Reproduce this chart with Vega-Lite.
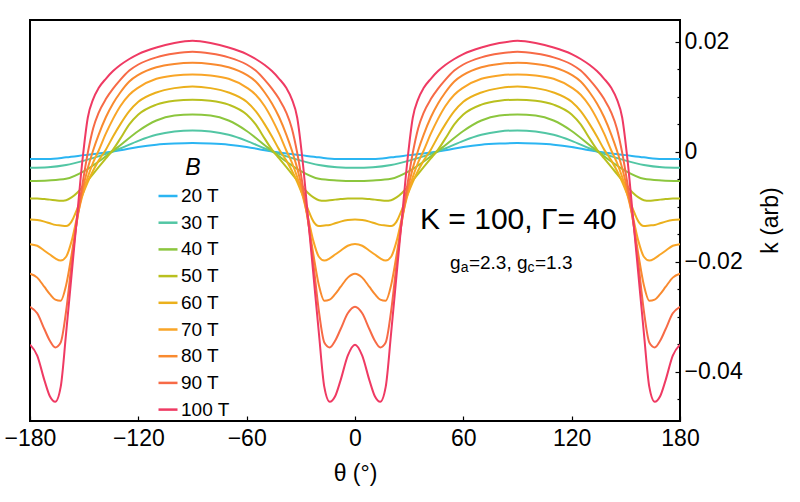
{
  "$schema": "https://vega.github.io/schema/vega-lite/v6.json",
  "width": 650,
  "height": 401,
  "autosize": {"type": "none"},
  "padding": {"left": 30, "top": 20, "right": 120, "bottom": 81},
  "background": "white",
  "config": {
    "font": "Liberation Sans",
    "view": {"stroke": "black", "strokeWidth": 2},
    "axis": {
      "grid": false,
      "domain": false,
      "labelFont": "Liberation Sans",
      "titleFont": "Liberation Sans",
      "labelColor": "black",
      "titleColor": "black",
      "titleFontWeight": "normal",
      "tickColor": "black",
      "tickWidth": 1.2
    },
    "text": {"font": "Liberation Sans", "color": "black"}
  },
  "datasets": {
    "curves": [
      {"B":20,"t":-180,"k":-0.0013},{"B":20,"t":-170,"k":-0.0013},{"B":20,"t":-160,"k":-0.0010},{"B":20,"t":-150,"k":-0.0006},{"B":20,"t":-140,"k":-0.0002},{"B":20,"t":-130,"k":0.0003},{"B":20,"t":-120,"k":0.0009},{"B":20,"t":-110,"k":0.0013},{"B":20,"t":-100,"k":0.0015},{"B":20,"t":-90,"k":0.0016},
      {"B":20,"t":-80,"k":0.0015},{"B":20,"t":-70,"k":0.0013},{"B":20,"t":-60,"k":0.0009},{"B":20,"t":-50,"k":0.0003},{"B":20,"t":-40,"k":-0.0002},{"B":20,"t":-30,"k":-0.0006},{"B":20,"t":-20,"k":-0.0010},{"B":20,"t":-10,"k":-0.0013},{"B":20,"t":0,"k":-0.0013},
      {"B":20,"t":10,"k":-0.0013},{"B":20,"t":20,"k":-0.0010},{"B":20,"t":30,"k":-0.0006},{"B":20,"t":40,"k":-0.0002},{"B":20,"t":50,"k":0.0003},{"B":20,"t":60,"k":0.0009},{"B":20,"t":70,"k":0.0013},{"B":20,"t":80,"k":0.0015},{"B":20,"t":90,"k":0.0016},
      {"B":20,"t":100,"k":0.0015},{"B":20,"t":110,"k":0.0013},{"B":20,"t":120,"k":0.0009},{"B":20,"t":130,"k":0.0003},{"B":20,"t":140,"k":-0.0002},{"B":20,"t":150,"k":-0.0006},{"B":20,"t":160,"k":-0.0010},{"B":20,"t":170,"k":-0.0013},{"B":20,"t":180,"k":-0.0013},

      {"B":30,"t":-180,"k":-0.0029},{"B":30,"t":-170,"k":-0.0028},{"B":30,"t":-160,"k":-0.0024},{"B":30,"t":-150,"k":-0.0016},{"B":30,"t":-140,"k":-0.0006},{"B":30,"t":-130,"k":0.0006},{"B":30,"t":-120,"k":0.0020},{"B":30,"t":-110,"k":0.0031},{"B":30,"t":-100,"k":0.0037},{"B":30,"t":-90,"k":0.0039},
      {"B":30,"t":-80,"k":0.0037},{"B":30,"t":-70,"k":0.0031},{"B":30,"t":-60,"k":0.0020},{"B":30,"t":-50,"k":0.0006},{"B":30,"t":-40,"k":-0.0006},{"B":30,"t":-30,"k":-0.0016},{"B":30,"t":-20,"k":-0.0024},{"B":30,"t":-10,"k":-0.0028},{"B":30,"t":0,"k":-0.0029},
      {"B":30,"t":10,"k":-0.0028},{"B":30,"t":20,"k":-0.0024},{"B":30,"t":30,"k":-0.0016},{"B":30,"t":40,"k":-0.0006},{"B":30,"t":50,"k":0.0006},{"B":30,"t":60,"k":0.0020},{"B":30,"t":70,"k":0.0031},{"B":30,"t":80,"k":0.0037},{"B":30,"t":90,"k":0.0039},
      {"B":30,"t":100,"k":0.0037},{"B":30,"t":110,"k":0.0031},{"B":30,"t":120,"k":0.0020},{"B":30,"t":130,"k":0.0006},{"B":30,"t":140,"k":-0.0006},{"B":30,"t":150,"k":-0.0016},{"B":30,"t":160,"k":-0.0024},{"B":30,"t":170,"k":-0.0028},{"B":30,"t":180,"k":-0.0029},

      {"B":40,"t":-180,"k":-0.0053},{"B":40,"t":-170,"k":-0.0052},{"B":40,"t":-160,"k":-0.0049},{"B":40,"t":-150,"k":-0.0035},{"B":40,"t":-140,"k":-0.0013},{"B":40,"t":-130,"k":0.0012},{"B":40,"t":-120,"k":0.0038},{"B":40,"t":-110,"k":0.0057},{"B":40,"t":-100,"k":0.0066},{"B":40,"t":-90,"k":0.0068},
      {"B":40,"t":-80,"k":0.0066},{"B":40,"t":-70,"k":0.0057},{"B":40,"t":-60,"k":0.0038},{"B":40,"t":-50,"k":0.0012},{"B":40,"t":-40,"k":-0.0013},{"B":40,"t":-30,"k":-0.0035},{"B":40,"t":-20,"k":-0.0049},{"B":40,"t":-10,"k":-0.0052},{"B":40,"t":0,"k":-0.0053},
      {"B":40,"t":10,"k":-0.0052},{"B":40,"t":20,"k":-0.0049},{"B":40,"t":30,"k":-0.0035},{"B":40,"t":40,"k":-0.0013},{"B":40,"t":50,"k":0.0012},{"B":40,"t":60,"k":0.0038},{"B":40,"t":70,"k":0.0057},{"B":40,"t":80,"k":0.0066},{"B":40,"t":90,"k":0.0068},
      {"B":40,"t":100,"k":0.0066},{"B":40,"t":110,"k":0.0057},{"B":40,"t":120,"k":0.0038},{"B":40,"t":130,"k":0.0012},{"B":40,"t":140,"k":-0.0013},{"B":40,"t":150,"k":-0.0035},{"B":40,"t":160,"k":-0.0049},{"B":40,"t":170,"k":-0.0052},{"B":40,"t":180,"k":-0.0053},

      {"B":50,"t":-180,"k":-0.0085},{"B":50,"t":-176,"k":-0.0085},{"B":50,"t":-172,"k":-0.0086},{"B":50,"t":-169,"k":-0.0087},{"B":50,"t":-166,"k":-0.0088},{"B":50,"t":-163,"k":-0.0089},{"B":50,"t":-160,"k":-0.0088},{"B":50,"t":-157,"k":-0.0083},{"B":50,"t":-154,"k":-0.0075},{"B":50,"t":-151,"k":-0.0064},{"B":50,"t":-148,"k":-0.0052},{"B":50,"t":-145,"k":-0.0040},{"B":50,"t":-142,"k":-0.0028},{"B":50,"t":-138,"k":-0.0012},{"B":50,"t":-134,"k":0.0004},{"B":50,"t":-130,"k":0.0024},{"B":50,"t":-125,"k":0.0050},{"B":50,"t":-120,"k":0.0068},{"B":50,"t":-110,"k":0.0086},{"B":50,"t":-100,"k":0.0093},{"B":50,"t":-90,"k":0.0095},
      {"B":50,"t":-80,"k":0.0093},{"B":50,"t":-70,"k":0.0086},{"B":50,"t":-60,"k":0.0068},{"B":50,"t":-55,"k":0.0050},{"B":50,"t":-50,"k":0.0024},{"B":50,"t":-46,"k":0.0004},{"B":50,"t":-42,"k":-0.0012},{"B":50,"t":-38,"k":-0.0028},{"B":50,"t":-35,"k":-0.0040},{"B":50,"t":-32,"k":-0.0052},{"B":50,"t":-29,"k":-0.0064},{"B":50,"t":-26,"k":-0.0075},{"B":50,"t":-23,"k":-0.0083},{"B":50,"t":-20,"k":-0.0088},{"B":50,"t":-17,"k":-0.0089},{"B":50,"t":-14,"k":-0.0088},{"B":50,"t":-11,"k":-0.0087},{"B":50,"t":-8,"k":-0.0086},{"B":50,"t":-4,"k":-0.0085},{"B":50,"t":0,"k":-0.0085},
      {"B":50,"t":4,"k":-0.0085},{"B":50,"t":8,"k":-0.0086},{"B":50,"t":11,"k":-0.0087},{"B":50,"t":14,"k":-0.0088},{"B":50,"t":17,"k":-0.0089},{"B":50,"t":20,"k":-0.0088},{"B":50,"t":23,"k":-0.0083},{"B":50,"t":26,"k":-0.0075},{"B":50,"t":29,"k":-0.0064},{"B":50,"t":32,"k":-0.0052},{"B":50,"t":35,"k":-0.0040},{"B":50,"t":38,"k":-0.0028},{"B":50,"t":42,"k":-0.0012},{"B":50,"t":46,"k":0.0004},{"B":50,"t":50,"k":0.0024},{"B":50,"t":55,"k":0.0050},{"B":50,"t":60,"k":0.0068},{"B":50,"t":70,"k":0.0086},{"B":50,"t":80,"k":0.0093},{"B":50,"t":90,"k":0.0095},
      {"B":50,"t":100,"k":0.0093},{"B":50,"t":110,"k":0.0086},{"B":50,"t":120,"k":0.0068},{"B":50,"t":125,"k":0.0050},{"B":50,"t":130,"k":0.0024},{"B":50,"t":134,"k":0.0004},{"B":50,"t":138,"k":-0.0012},{"B":50,"t":142,"k":-0.0028},{"B":50,"t":145,"k":-0.0040},{"B":50,"t":148,"k":-0.0052},{"B":50,"t":151,"k":-0.0064},{"B":50,"t":154,"k":-0.0075},{"B":50,"t":157,"k":-0.0083},{"B":50,"t":160,"k":-0.0088},{"B":50,"t":163,"k":-0.0089},{"B":50,"t":166,"k":-0.0088},{"B":50,"t":169,"k":-0.0087},{"B":50,"t":172,"k":-0.0086},{"B":50,"t":176,"k":-0.0085},{"B":50,"t":180,"k":-0.0085},

      {"B":60,"t":-180,"k":-0.0123},{"B":60,"t":-176,"k":-0.0124},{"B":60,"t":-172,"k":-0.0127},{"B":60,"t":-169,"k":-0.0130},{"B":60,"t":-166,"k":-0.0133},{"B":60,"t":-163,"k":-0.0134},{"B":60,"t":-160,"k":-0.0135},{"B":60,"t":-157,"k":-0.0127},{"B":60,"t":-154,"k":-0.0105},{"B":60,"t":-151,"k":-0.0079},{"B":60,"t":-148,"k":-0.0055},{"B":60,"t":-145,"k":-0.0034},{"B":60,"t":-142,"k":-0.0016},{"B":60,"t":-138,"k":0.0004},{"B":60,"t":-134,"k":0.0028},{"B":60,"t":-130,"k":0.0050},{"B":60,"t":-125,"k":0.0074},{"B":60,"t":-120,"k":0.0091},{"B":60,"t":-110,"k":0.0108},{"B":60,"t":-100,"k":0.0116},{"B":60,"t":-90,"k":0.0119},
      {"B":60,"t":-80,"k":0.0116},{"B":60,"t":-70,"k":0.0108},{"B":60,"t":-60,"k":0.0091},{"B":60,"t":-55,"k":0.0074},{"B":60,"t":-50,"k":0.0050},{"B":60,"t":-46,"k":0.0028},{"B":60,"t":-42,"k":0.0004},{"B":60,"t":-38,"k":-0.0016},{"B":60,"t":-35,"k":-0.0034},{"B":60,"t":-32,"k":-0.0055},{"B":60,"t":-29,"k":-0.0079},{"B":60,"t":-26,"k":-0.0105},{"B":60,"t":-23,"k":-0.0127},{"B":60,"t":-20,"k":-0.0135},{"B":60,"t":-17,"k":-0.0134},{"B":60,"t":-14,"k":-0.0133},{"B":60,"t":-11,"k":-0.0130},{"B":60,"t":-8,"k":-0.0127},{"B":60,"t":-4,"k":-0.0124},{"B":60,"t":0,"k":-0.0123},
      {"B":60,"t":4,"k":-0.0124},{"B":60,"t":8,"k":-0.0127},{"B":60,"t":11,"k":-0.0130},{"B":60,"t":14,"k":-0.0133},{"B":60,"t":17,"k":-0.0134},{"B":60,"t":20,"k":-0.0135},{"B":60,"t":23,"k":-0.0127},{"B":60,"t":26,"k":-0.0105},{"B":60,"t":29,"k":-0.0079},{"B":60,"t":32,"k":-0.0055},{"B":60,"t":35,"k":-0.0034},{"B":60,"t":38,"k":-0.0016},{"B":60,"t":42,"k":0.0004},{"B":60,"t":46,"k":0.0028},{"B":60,"t":50,"k":0.0050},{"B":60,"t":55,"k":0.0074},{"B":60,"t":60,"k":0.0091},{"B":60,"t":70,"k":0.0108},{"B":60,"t":80,"k":0.0116},{"B":60,"t":90,"k":0.0119},
      {"B":60,"t":100,"k":0.0116},{"B":60,"t":110,"k":0.0108},{"B":60,"t":120,"k":0.0091},{"B":60,"t":125,"k":0.0074},{"B":60,"t":130,"k":0.0050},{"B":60,"t":134,"k":0.0028},{"B":60,"t":138,"k":0.0004},{"B":60,"t":142,"k":-0.0016},{"B":60,"t":145,"k":-0.0034},{"B":60,"t":148,"k":-0.0055},{"B":60,"t":151,"k":-0.0079},{"B":60,"t":154,"k":-0.0105},{"B":60,"t":157,"k":-0.0127},{"B":60,"t":160,"k":-0.0135},{"B":60,"t":163,"k":-0.0134},{"B":60,"t":166,"k":-0.0133},{"B":60,"t":169,"k":-0.0130},{"B":60,"t":172,"k":-0.0127},{"B":60,"t":176,"k":-0.0124},{"B":60,"t":180,"k":-0.0123},

      {"B":70,"t":-180,"k":-0.0168},{"B":70,"t":-176,"k":-0.0171},{"B":70,"t":-172,"k":-0.0180},{"B":70,"t":-169,"k":-0.0187},{"B":70,"t":-166,"k":-0.0194},{"B":70,"t":-163,"k":-0.0198},{"B":70,"t":-160,"k":-0.0191},{"B":70,"t":-157,"k":-0.0163},{"B":70,"t":-154,"k":-0.0120},{"B":70,"t":-151,"k":-0.0080},{"B":70,"t":-148,"k":-0.0046},{"B":70,"t":-145,"k":-0.0019},{"B":70,"t":-142,"k":0.0002},{"B":70,"t":-138,"k":0.0033},{"B":70,"t":-134,"k":0.0060},{"B":70,"t":-130,"k":0.0083},{"B":70,"t":-125,"k":0.0104},{"B":70,"t":-120,"k":0.0117},{"B":70,"t":-110,"k":0.0133},{"B":70,"t":-100,"k":0.0139},{"B":70,"t":-90,"k":0.0141},
      {"B":70,"t":-80,"k":0.0139},{"B":70,"t":-70,"k":0.0133},{"B":70,"t":-60,"k":0.0117},{"B":70,"t":-55,"k":0.0104},{"B":70,"t":-50,"k":0.0083},{"B":70,"t":-46,"k":0.0060},{"B":70,"t":-42,"k":0.0033},{"B":70,"t":-38,"k":0.0002},{"B":70,"t":-35,"k":-0.0019},{"B":70,"t":-32,"k":-0.0046},{"B":70,"t":-29,"k":-0.0080},{"B":70,"t":-26,"k":-0.0120},{"B":70,"t":-23,"k":-0.0163},{"B":70,"t":-20,"k":-0.0191},{"B":70,"t":-17,"k":-0.0198},{"B":70,"t":-14,"k":-0.0194},{"B":70,"t":-11,"k":-0.0187},{"B":70,"t":-8,"k":-0.0180},{"B":70,"t":-4,"k":-0.0171},{"B":70,"t":0,"k":-0.0168},
      {"B":70,"t":4,"k":-0.0171},{"B":70,"t":8,"k":-0.0180},{"B":70,"t":11,"k":-0.0187},{"B":70,"t":14,"k":-0.0194},{"B":70,"t":17,"k":-0.0198},{"B":70,"t":20,"k":-0.0191},{"B":70,"t":23,"k":-0.0163},{"B":70,"t":26,"k":-0.0120},{"B":70,"t":29,"k":-0.0080},{"B":70,"t":32,"k":-0.0046},{"B":70,"t":35,"k":-0.0019},{"B":70,"t":38,"k":0.0002},{"B":70,"t":42,"k":0.0033},{"B":70,"t":46,"k":0.0060},{"B":70,"t":50,"k":0.0083},{"B":70,"t":55,"k":0.0104},{"B":70,"t":60,"k":0.0117},{"B":70,"t":70,"k":0.0133},{"B":70,"t":80,"k":0.0139},{"B":70,"t":90,"k":0.0141},
      {"B":70,"t":100,"k":0.0139},{"B":70,"t":110,"k":0.0133},{"B":70,"t":120,"k":0.0117},{"B":70,"t":125,"k":0.0104},{"B":70,"t":130,"k":0.0083},{"B":70,"t":134,"k":0.0060},{"B":70,"t":138,"k":0.0033},{"B":70,"t":142,"k":0.0002},{"B":70,"t":145,"k":-0.0019},{"B":70,"t":148,"k":-0.0046},{"B":70,"t":151,"k":-0.0080},{"B":70,"t":154,"k":-0.0120},{"B":70,"t":157,"k":-0.0163},{"B":70,"t":160,"k":-0.0191},{"B":70,"t":163,"k":-0.0198},{"B":70,"t":166,"k":-0.0194},{"B":70,"t":169,"k":-0.0187},{"B":70,"t":172,"k":-0.0180},{"B":70,"t":176,"k":-0.0171},{"B":70,"t":180,"k":-0.0168},

      {"B":80,"t":-180,"k":-0.0222},{"B":80,"t":-176,"k":-0.0229},{"B":80,"t":-172,"k":-0.0246},{"B":80,"t":-169,"k":-0.0259},{"B":80,"t":-166,"k":-0.0269},{"B":80,"t":-163,"k":-0.0271},{"B":80,"t":-160,"k":-0.0243},{"B":80,"t":-157,"k":-0.0188},{"B":80,"t":-154,"k":-0.0126},{"B":80,"t":-151,"k":-0.0072},{"B":80,"t":-148,"k":-0.0030},{"B":80,"t":-145,"k":0.0003},{"B":80,"t":-142,"k":0.0031},{"B":80,"t":-138,"k":0.0063},{"B":80,"t":-134,"k":0.0088},{"B":80,"t":-130,"k":0.0108},{"B":80,"t":-125,"k":0.0128},{"B":80,"t":-120,"k":0.0140},{"B":80,"t":-110,"k":0.0154},{"B":80,"t":-100,"k":0.0160},{"B":80,"t":-90,"k":0.0162},
      {"B":80,"t":-80,"k":0.0160},{"B":80,"t":-70,"k":0.0154},{"B":80,"t":-60,"k":0.0140},{"B":80,"t":-55,"k":0.0128},{"B":80,"t":-50,"k":0.0108},{"B":80,"t":-46,"k":0.0088},{"B":80,"t":-42,"k":0.0063},{"B":80,"t":-38,"k":0.0031},{"B":80,"t":-35,"k":0.0003},{"B":80,"t":-32,"k":-0.0030},{"B":80,"t":-29,"k":-0.0072},{"B":80,"t":-26,"k":-0.0126},{"B":80,"t":-23,"k":-0.0188},{"B":80,"t":-20,"k":-0.0243},{"B":80,"t":-17,"k":-0.0271},{"B":80,"t":-14,"k":-0.0269},{"B":80,"t":-11,"k":-0.0259},{"B":80,"t":-8,"k":-0.0246},{"B":80,"t":-4,"k":-0.0229},{"B":80,"t":0,"k":-0.0222},
      {"B":80,"t":4,"k":-0.0229},{"B":80,"t":8,"k":-0.0246},{"B":80,"t":11,"k":-0.0259},{"B":80,"t":14,"k":-0.0269},{"B":80,"t":17,"k":-0.0271},{"B":80,"t":20,"k":-0.0243},{"B":80,"t":23,"k":-0.0188},{"B":80,"t":26,"k":-0.0126},{"B":80,"t":29,"k":-0.0072},{"B":80,"t":32,"k":-0.0030},{"B":80,"t":35,"k":0.0003},{"B":80,"t":38,"k":0.0031},{"B":80,"t":42,"k":0.0063},{"B":80,"t":46,"k":0.0088},{"B":80,"t":50,"k":0.0108},{"B":80,"t":55,"k":0.0128},{"B":80,"t":60,"k":0.0140},{"B":80,"t":70,"k":0.0154},{"B":80,"t":80,"k":0.0160},{"B":80,"t":90,"k":0.0162},
      {"B":80,"t":100,"k":0.0160},{"B":80,"t":110,"k":0.0154},{"B":80,"t":120,"k":0.0140},{"B":80,"t":125,"k":0.0128},{"B":80,"t":130,"k":0.0108},{"B":80,"t":134,"k":0.0088},{"B":80,"t":138,"k":0.0063},{"B":80,"t":142,"k":0.0031},{"B":80,"t":145,"k":0.0003},{"B":80,"t":148,"k":-0.0030},{"B":80,"t":151,"k":-0.0072},{"B":80,"t":154,"k":-0.0126},{"B":80,"t":157,"k":-0.0188},{"B":80,"t":160,"k":-0.0243},{"B":80,"t":163,"k":-0.0271},{"B":80,"t":166,"k":-0.0269},{"B":80,"t":169,"k":-0.0259},{"B":80,"t":172,"k":-0.0246},{"B":80,"t":176,"k":-0.0229},{"B":80,"t":180,"k":-0.0222},

      {"B":90,"t":-180,"k":-0.0282},{"B":90,"t":-176,"k":-0.0294},{"B":90,"t":-172,"k":-0.0323},{"B":90,"t":-169,"k":-0.0344},{"B":90,"t":-166,"k":-0.0356},{"B":90,"t":-163,"k":-0.0347},{"B":90,"t":-160,"k":-0.0290},{"B":90,"t":-157,"k":-0.0205},{"B":90,"t":-154,"k":-0.0125},{"B":90,"t":-151,"k":-0.0060},{"B":90,"t":-148,"k":-0.0002},{"B":90,"t":-145,"k":0.0043},{"B":90,"t":-142,"k":0.0071},{"B":90,"t":-138,"k":0.0096},{"B":90,"t":-134,"k":0.0115},{"B":90,"t":-130,"k":0.0131},{"B":90,"t":-125,"k":0.0148},{"B":90,"t":-120,"k":0.0159},{"B":90,"t":-110,"k":0.0172},{"B":90,"t":-100,"k":0.0179},{"B":90,"t":-90,"k":0.0182},
      {"B":90,"t":-80,"k":0.0179},{"B":90,"t":-70,"k":0.0172},{"B":90,"t":-60,"k":0.0159},{"B":90,"t":-55,"k":0.0148},{"B":90,"t":-50,"k":0.0131},{"B":90,"t":-46,"k":0.0115},{"B":90,"t":-42,"k":0.0096},{"B":90,"t":-38,"k":0.0071},{"B":90,"t":-35,"k":0.0043},{"B":90,"t":-32,"k":-0.0002},{"B":90,"t":-29,"k":-0.0060},{"B":90,"t":-26,"k":-0.0125},{"B":90,"t":-23,"k":-0.0205},{"B":90,"t":-20,"k":-0.0290},{"B":90,"t":-17,"k":-0.0347},{"B":90,"t":-14,"k":-0.0356},{"B":90,"t":-11,"k":-0.0344},{"B":90,"t":-8,"k":-0.0323},{"B":90,"t":-4,"k":-0.0294},{"B":90,"t":0,"k":-0.0282},
      {"B":90,"t":4,"k":-0.0294},{"B":90,"t":8,"k":-0.0323},{"B":90,"t":11,"k":-0.0344},{"B":90,"t":14,"k":-0.0356},{"B":90,"t":17,"k":-0.0347},{"B":90,"t":20,"k":-0.0290},{"B":90,"t":23,"k":-0.0205},{"B":90,"t":26,"k":-0.0125},{"B":90,"t":29,"k":-0.0060},{"B":90,"t":32,"k":-0.0002},{"B":90,"t":35,"k":0.0043},{"B":90,"t":38,"k":0.0071},{"B":90,"t":42,"k":0.0096},{"B":90,"t":46,"k":0.0115},{"B":90,"t":50,"k":0.0131},{"B":90,"t":55,"k":0.0148},{"B":90,"t":60,"k":0.0159},{"B":90,"t":70,"k":0.0172},{"B":90,"t":80,"k":0.0179},{"B":90,"t":90,"k":0.0182},
      {"B":90,"t":100,"k":0.0179},{"B":90,"t":110,"k":0.0172},{"B":90,"t":120,"k":0.0159},{"B":90,"t":125,"k":0.0148},{"B":90,"t":130,"k":0.0131},{"B":90,"t":134,"k":0.0115},{"B":90,"t":138,"k":0.0096},{"B":90,"t":142,"k":0.0071},{"B":90,"t":145,"k":0.0043},{"B":90,"t":148,"k":-0.0002},{"B":90,"t":151,"k":-0.0060},{"B":90,"t":154,"k":-0.0125},{"B":90,"t":157,"k":-0.0205},{"B":90,"t":160,"k":-0.0290},{"B":90,"t":163,"k":-0.0347},{"B":90,"t":166,"k":-0.0356},{"B":90,"t":169,"k":-0.0344},{"B":90,"t":172,"k":-0.0323},{"B":90,"t":176,"k":-0.0294},{"B":90,"t":180,"k":-0.0282},

      {"B":100,"t":-180,"k":-0.0351},{"B":100,"t":-176,"k":-0.0371},{"B":100,"t":-172,"k":-0.0416},{"B":100,"t":-169,"k":-0.0445},{"B":100,"t":-166,"k":-0.0455},{"B":100,"t":-163,"k":-0.0428},{"B":100,"t":-160,"k":-0.0330},{"B":100,"t":-157,"k":-0.0225},{"B":100,"t":-154,"k":-0.0120},{"B":100,"t":-151,"k":-0.0017},{"B":100,"t":-148,"k":0.0062},{"B":100,"t":-145,"k":0.0096},{"B":100,"t":-142,"k":0.0116},{"B":100,"t":-138,"k":0.0133},{"B":100,"t":-134,"k":0.0147},{"B":100,"t":-130,"k":0.0158},{"B":100,"t":-125,"k":0.0169},{"B":100,"t":-120,"k":0.0178},{"B":100,"t":-110,"k":0.0190},{"B":100,"t":-100,"k":0.0198},{"B":100,"t":-90,"k":0.0202},
      {"B":100,"t":-80,"k":0.0198},{"B":100,"t":-70,"k":0.0190},{"B":100,"t":-60,"k":0.0178},{"B":100,"t":-55,"k":0.0169},{"B":100,"t":-50,"k":0.0158},{"B":100,"t":-46,"k":0.0147},{"B":100,"t":-42,"k":0.0133},{"B":100,"t":-38,"k":0.0116},{"B":100,"t":-35,"k":0.0096},{"B":100,"t":-32,"k":0.0062},{"B":100,"t":-29,"k":-0.0017},{"B":100,"t":-26,"k":-0.0120},{"B":100,"t":-23,"k":-0.0225},{"B":100,"t":-20,"k":-0.0330},{"B":100,"t":-17,"k":-0.0428},{"B":100,"t":-14,"k":-0.0455},{"B":100,"t":-11,"k":-0.0445},{"B":100,"t":-8,"k":-0.0416},{"B":100,"t":-4,"k":-0.0371},{"B":100,"t":0,"k":-0.0351},
      {"B":100,"t":4,"k":-0.0371},{"B":100,"t":8,"k":-0.0416},{"B":100,"t":11,"k":-0.0445},{"B":100,"t":14,"k":-0.0455},{"B":100,"t":17,"k":-0.0428},{"B":100,"t":20,"k":-0.0330},{"B":100,"t":23,"k":-0.0225},{"B":100,"t":26,"k":-0.0120},{"B":100,"t":29,"k":-0.0017},{"B":100,"t":32,"k":0.0062},{"B":100,"t":35,"k":0.0096},{"B":100,"t":38,"k":0.0116},{"B":100,"t":42,"k":0.0133},{"B":100,"t":46,"k":0.0147},{"B":100,"t":50,"k":0.0158},{"B":100,"t":55,"k":0.0169},{"B":100,"t":60,"k":0.0178},{"B":100,"t":70,"k":0.0190},{"B":100,"t":80,"k":0.0198},{"B":100,"t":90,"k":0.0202},
      {"B":100,"t":100,"k":0.0198},{"B":100,"t":110,"k":0.0190},{"B":100,"t":120,"k":0.0178},{"B":100,"t":125,"k":0.0169},{"B":100,"t":130,"k":0.0158},{"B":100,"t":134,"k":0.0147},{"B":100,"t":138,"k":0.0133},{"B":100,"t":142,"k":0.0116},{"B":100,"t":145,"k":0.0096},{"B":100,"t":148,"k":0.0062},{"B":100,"t":151,"k":-0.0017},{"B":100,"t":154,"k":-0.0120},{"B":100,"t":157,"k":-0.0225},{"B":100,"t":160,"k":-0.0330},{"B":100,"t":163,"k":-0.0428},{"B":100,"t":166,"k":-0.0455},{"B":100,"t":169,"k":-0.0445},{"B":100,"t":172,"k":-0.0416},{"B":100,"t":176,"k":-0.0371},{"B":100,"t":180,"k":-0.0351}
    ],
    "main": [{"t": 36, "k": -0.0124, "txt": "K = 100, Γ= 40"}],
    "gtext": [
      {"t": 52.6, "k": -0.0202, "txt": "g"},
      {"t": 63.1, "k": -0.0202, "txt": "=2.3, g"},
      {"t": 99.7, "k": -0.0202, "txt": "=1.3"}
    ],
    "gsub": [
      {"t": 58.5, "k": -0.0211, "txt": "a"},
      {"t": 95.5, "k": -0.0211, "txt": "c"}
    ]
  },
  "layer": [
    {
      "mark": {"type": "rule", "color": "#808080", "strokeWidth": 1},
      "encoding": {
        "y": {
          "datum": 0,
          "type": "quantitative",
          "axis": {
            "orient": "right",
            "values": [-0.045, -0.035, -0.03, -0.025, -0.015, -0.01, -0.005, 0.005, 0.01, 0.015],
            "offset": -3,
            "tickSize": 3,
            "labels": false,
            "title": null
          }
        }
      }
    },
    {
      "mark": {"type": "rule", "color": "#808080", "strokeWidth": 1},
      "encoding": {"x": {"datum": 0, "type": "quantitative"}}
    },
    {
      "data": {"name": "curves"},
      "mark": {"type": "line", "interpolate": "monotone", "strokeWidth": 2, "clip": true},
      "encoding": {
        "x": {
          "field": "t",
          "type": "quantitative",
          "scale": {"domain": [-180, 180], "nice": false, "zero": false},
          "axis": {
            "values": [-180, -120, -60, 0, 60, 120, 180],
            "offset": -5,
            "tickSize": 5,
            "labelFontSize": 23,
            "labelPadding": 6,
            "labelFlush": false,
            "title": "θ (°)",
            "titleFontSize": 23,
            "titleX": 325,
            "titleY": 57,
            "titleBaseline": "middle"
          }
        },
        "y": {
          "field": "k",
          "type": "quantitative",
          "scale": {"domain": [-0.049, 0.024], "nice": false, "zero": false},
          "axis": {
            "orient": "right",
            "values": [-0.04, -0.02, 0, 0.02],
            "offset": -5,
            "tickSize": 5,
            "labelFontSize": 23,
            "labelPadding": 4,
            "labelExpr": "datum.value == 0 ? '0' : format(datum.value, '.2f')",
            "title": "k (arb)",
            "titleFontSize": 23,
            "titleAngle": 270,
            "titleX": 95,
            "titleY": 200,
            "titleAlign": "center",
            "titleBaseline": "middle"
          }
        },
        "color": {
          "field": "B",
          "type": "ordinal",
          "scale": {
            "domain": [20, 30, 40, 50, 60, 70, 80, 90, 100],
            "range": ["#2bb5f2", "#52c6a4", "#8cc63e", "#b9c01f", "#ebb01c", "#f9a527", "#f98a2f", "#f76a46", "#ef3a63"]
          },
          "legend": {
            "orient": "none",
            "legendX": 127,
            "legendY": 137,
            "padding": 0,
            "title": "B",
            "titleFontStyle": "italic",
            "titleFontWeight": "normal",
            "titleFontSize": 23,
            "titleAnchor": "middle",
            "titlePadding": 5,
            "labelFontSize": 19,
            "labelOffset": 2,
            "labelExpr": "datum.label + ' T'",
            "symbolType": "stroke",
            "symbolSize": 361,
            "symbolStrokeWidth": 2.5,
            "rowPadding": 5.7
          }
        }
      }
    },
    {
      "data": {"name": "main"},
      "mark": {"type": "text", "align": "left", "baseline": "middle", "fontSize": 30},
      "encoding": {
        "x": {"field": "t", "type": "quantitative"},
        "y": {"field": "k", "type": "quantitative", "axis": null},
        "text": {"field": "txt"}
      }
    },
    {
      "data": {"name": "gtext"},
      "mark": {"type": "text", "align": "left", "baseline": "middle", "fontSize": 19},
      "encoding": {
        "x": {"field": "t", "type": "quantitative"},
        "y": {"field": "k", "type": "quantitative", "axis": null},
        "text": {"field": "txt"}
      }
    },
    {
      "data": {"name": "gsub"},
      "mark": {"type": "text", "align": "left", "baseline": "middle", "fontSize": 14},
      "encoding": {
        "x": {"field": "t", "type": "quantitative"},
        "y": {"field": "k", "type": "quantitative", "axis": null},
        "text": {"field": "txt"}
      }
    }
  ],
  "resolve": {"axis": {"y": "independent"}}
}
